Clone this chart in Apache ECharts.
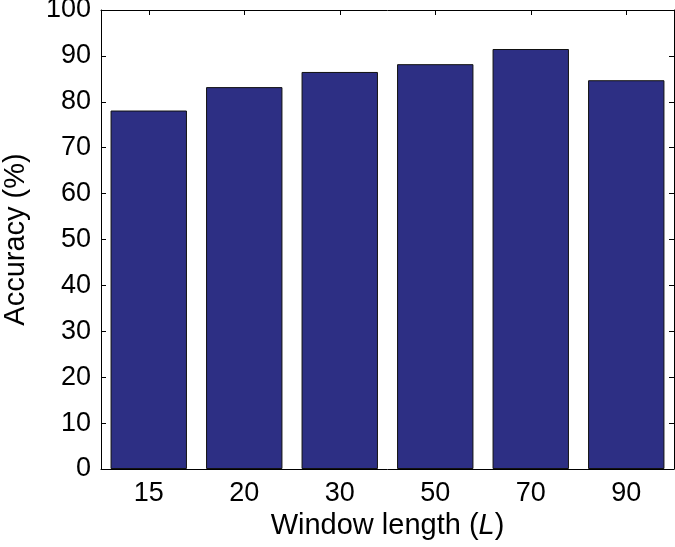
<!DOCTYPE html>
<html>
<head>
<meta charset="utf-8">
<script src="https://cdn.jsdelivr.net/npm/echarts@6/dist/echarts.min.js"></script>
<style>html,body{margin:0;padding:0;background:#fff;}#chart{width:675px;height:547px;}</style>
</head>
<body>
<div id="chart"></div>
<script>
const categories = ['15', '20', '30', '50', '70', '90'];
const accuracy = [78.1, 83.2, 86.5, 88.2, 91.5, 84.7];
const yMin = 0, yMax = 100, yStep = 10;

const FONT = '"Liberation Sans", Arial, sans-serif';
const chart = echarts.init(document.getElementById('chart'), null, {renderer: 'canvas'});
const tickStyle = {show: true, inside: true, length: 5, lineStyle: {color: '#000', width: 1}};
chart.setOption({
  animation: false,
  backgroundColor: '#fff',
  grid: {left: 101, right: 1, top: 10, bottom: 78, containLabel: false, outerBoundsMode: 'none'},
  xAxis: [{
    type: 'category', data: categories, position: 'bottom',
    axisLine: {show: true, lineStyle: {color: '#000', width: 1}},
    axisTick: Object.assign({alignWithLabel: true}, tickStyle),
    axisLabel: {color: '#000', fontSize: 27, fontFamily: FONT, margin: 11},
    name: 'Window length ({i|L})', nameLocation: 'middle', nameGap: 38,
    nameTextStyle: {color: '#000', fontSize: 29, fontFamily: FONT,
      rich: {i: {fontStyle: 'italic', fontSize: 29, fontFamily: FONT, color: '#000'}}}
  }, {
    type: 'category', data: categories, position: 'top',
    axisLine: {show: true, onZero: false, lineStyle: {color: '#000', width: 1}},
    axisTick: Object.assign({alignWithLabel: true}, tickStyle),
    axisLabel: {show: false}
  }],
  yAxis: [{
    type: 'value', min: yMin, max: yMax, interval: yStep, position: 'left',
    axisLine: {show: true, lineStyle: {color: '#000', width: 1}},
    axisTick: tickStyle,
    splitLine: {show: false},
    axisLabel: {color: '#000', fontSize: 27, fontFamily: FONT, margin: 10},
    name: 'Accuracy (%)', nameLocation: 'middle', nameGap: 71,
    nameTextStyle: {color: '#000', fontSize: 29, fontFamily: FONT}
  }, {
    type: 'value', min: yMin, max: yMax, interval: yStep, position: 'right',
    axisLine: {show: true, lineStyle: {color: '#000', width: 1}},
    axisTick: tickStyle,
    splitLine: {show: false},
    axisLabel: {show: false}
  }],
  series: [{
    type: 'bar', data: accuracy, xAxisIndex: 0, yAxisIndex: 0,
    barCategoryGap: '20%',
    itemStyle: {color: '#2D2F84', borderColor: '#111', borderWidth: 1}
  }]
});
</script>
</body>
</html>
